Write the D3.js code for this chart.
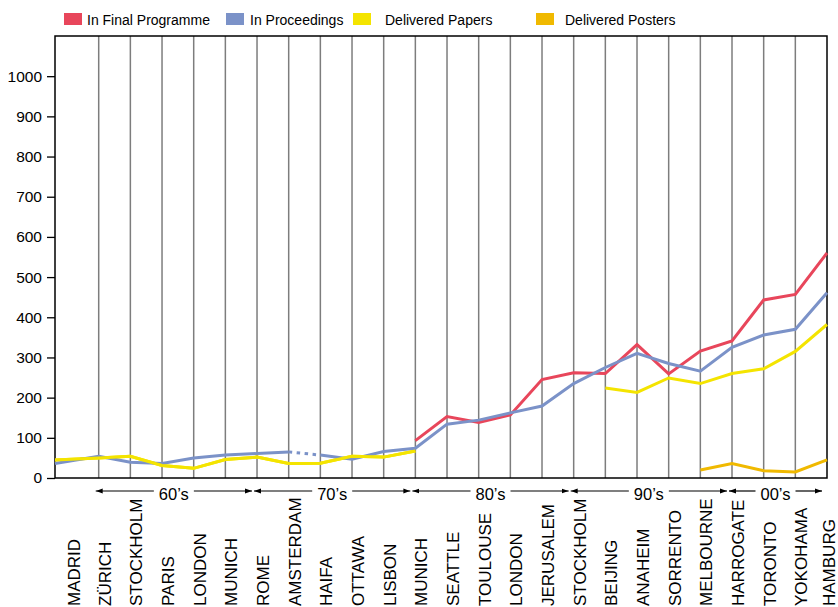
<!DOCTYPE html>
<html>
<head>
<meta charset="utf-8">
<script src="https://cdn.jsdelivr.net/npm/d3@7"></script>
<style>
  html, body { margin: 0; padding: 0; background: #fff; }
  svg { display: block; font-family: "Liberation Sans", Arial, Helvetica, sans-serif; }
</style>
</head>
<body>
<svg id="chart" width="838" height="607"></svg>
<script>
// ---- data ----
const cities = ["MADRID","ZÜRICH","STOCKHOLM","PARIS","LONDON","MUNICH","ROME","AMSTERDAM","HAIFA","OTTAWA","LISBON","MUNICH","SEATTLE","TOULOUSE","LONDON","JERUSALEM","STOCKHOLM","BEIJING","ANAHEIM","SORRENTO","MELBOURNE","HARROGATE","TORONTO","YOKOHAMA","HAMBURG"];
const inFinalProgramme = [null,null,null,null,null,null,null,null,null,null,null,93,153,138,157,245,262,260,332,259,316,341,443,457,560];
const inProceedings = [36,54,39,36,50,57,61,65,57,47,66,74,134,144,162,179,235,275,310,285,266,325,356,370,461];
const deliveredPapers = [45,50,54,31,24,46,52,36,37,54,52,67,null,null,null,null,null,224,213,249,235,260,272,315,382];
const deliveredPosters = [null,null,null,null,null,null,null,null,null,null,null,null,null,null,null,null,null,null,null,null,20,36,18,15,45];
const yTicks = [0,100,200,300,400,500,600,700,800,900,1000];
const decadeLabels = ["60’s","70’s","80’s","90’s","00’s"];
const decadeStart = [1,6,11,16,21];
const decadeEnd = [6,11,16,21,24];
const seriesNames = ["In Final Programme","In Proceedings","Delivered Papers","Delivered Posters"];
const dottedProceedingsSegment = [7,8]; // AMSTERDAM -> HAIFA drawn dotted

// ---- layout / style ----
const colors = ["#e8465b","#7b92c8","#f4e400","#f0b900"];
const plotLeft = 55, plotRight = 827, plotTop = 36, plotBottom = 478;
const svg = d3.select("#chart");

const x = d3.scaleLinear().domain([0, 1, cities.length - 1]).range([plotLeft, 98.7, plotRight]);
const y = d3.scaleLinear().domain([0, 1100]).range([plotBottom, plotTop]);

// vertical grid lines
svg.append("g").selectAll("line")
  .data(d3.range(1, cities.length - 1))
  .join("line")
  .attr("x1", d => x(d)).attr("x2", d => x(d))
  .attr("y1", plotTop).attr("y2", plotBottom)
  .attr("stroke", "#7d7d7d").attr("stroke-width", 1.5);

// frame
svg.append("rect")
  .attr("x", plotLeft).attr("y", plotTop)
  .attr("width", plotRight - plotLeft).attr("height", plotBottom - plotTop)
  .attr("fill", "none").attr("stroke", "#000").attr("stroke-width", 1.5);

// y axis
const yAxis = svg.append("g")
  .attr("transform", `translate(${plotLeft},0)`)
  .call(d3.axisLeft(y).tickValues(yTicks).tickSize(8).tickPadding(5).tickFormat(d3.format("d")));
yAxis.select(".domain").remove();
yAxis.selectAll(".tick line").attr("stroke", "#000").attr("stroke-width", 1.3);
yAxis.selectAll(".tick text")
  .attr("font-size", 15.5)
  .attr("font-family", "Liberation Sans, Arial, sans-serif")
  .attr("fill", "#000");

// lines
const lineGen = d3.line()
  .defined(d => d.v !== null)
  .x(d => x(d.i))
  .y(d => y(d.v));
const toPts = arr => arr.map((v, i) => ({ i, v }));

function drawLine(arr, color, dash) {
  svg.append("path")
    .datum(toPts(arr))
    .attr("fill", "none")
    .attr("stroke", color)
    .attr("stroke-width", 3)
    .attr("stroke-linejoin", "miter")
    .attr("stroke-dasharray", dash || null)
    .attr("d", lineGen);
}

drawLine(deliveredPosters, colors[3]);
drawLine(deliveredPapers, colors[2]);
drawLine(inFinalProgramme, colors[0]);
const [da, db] = dottedProceedingsSegment;
drawLine(inProceedings.map((v, i) => i <= da ? v : null), colors[1]);
drawLine(inProceedings.map((v, i) => i >= db ? v : null), colors[1]);
drawLine(inProceedings.map((v, i) => (i >= da && i <= db) ? v : null), colors[1], "3.5,4.5");
drawLine(deliveredPapers.map((v, i) => i <= 11 ? v : null), colors[2]);

// decade arrows
const defs = svg.append("defs");
defs.append("marker").attr("id", "arrEnd")
  .attr("viewBox", "0 0 10 10").attr("refX", 10).attr("refY", 5)
  .attr("markerWidth", 7).attr("markerHeight", 7).attr("markerUnits", "userSpaceOnUse")
  .attr("orient", "auto")
  .append("path").attr("d", "M0,1.5 L10,5 L0,8.5 Z").attr("fill", "#000");
defs.append("marker").attr("id", "arrStart")
  .attr("viewBox", "0 0 10 10").attr("refX", 0).attr("refY", 5)
  .attr("markerWidth", 7).attr("markerHeight", 7).attr("markerUnits", "userSpaceOnUse")
  .attr("orient", "auto")
  .append("path").attr("d", "M10,1.5 L0,5 L10,8.5 Z").attr("fill", "#000");

const arrowY = 491;
decadeLabels.forEach((lab, k) => {
  const x1 = x(decadeStart[k]) - 3;
  const x2 = x(decadeEnd[k]) - 5;
  const cx = (x1 + x2) / 2;
  const halfGap = 20;
  svg.append("line").attr("x1", x1).attr("x2", cx - halfGap)
    .attr("y1", arrowY).attr("y2", arrowY)
    .attr("stroke", "#000").attr("stroke-width", 1.2)
    .attr("marker-start", "url(#arrStart)");
  svg.append("line").attr("x1", cx + halfGap).attr("x2", x2)
    .attr("y1", arrowY).attr("y2", arrowY)
    .attr("stroke", "#000").attr("stroke-width", 1.2)
    .attr("marker-end", "url(#arrEnd)");
  svg.append("text").attr("x", cx).attr("y", arrowY + 8.5)
    .attr("text-anchor", "middle").attr("font-size", 16.5).attr("fill", "#000")
    .text(lab);
});

// category labels (rotated)
svg.append("g").selectAll("text")
  .data(cities)
  .join("text")
  .attr("transform", (d, i) => {
    const lx = Math.min(Math.max(x(i) + 6, x(0) + 19), 829);
    return `translate(${lx},606) rotate(-90)`;
  })
  .attr("dy", "0.35em")
  .attr("text-anchor", "start")
  .attr("font-size", 17)
  .attr("fill", "#000")
  .text(d => d);

// legend
const legendX = [64, 226, 353, 536];
const legendTextGap = [23, 24, 32, 29];
const lg = svg.append("g");
seriesNames.forEach((name, k) => {
  lg.append("rect").attr("x", legendX[k]).attr("y", 13)
    .attr("width", 18).attr("height", 12).attr("fill", colors[k]);
  lg.append("text").attr("x", legendX[k] + legendTextGap[k]).attr("y", 25)
    .attr("font-size", 14).attr("fill", "#000").text(name);
});
</script>
</body>
</html>
